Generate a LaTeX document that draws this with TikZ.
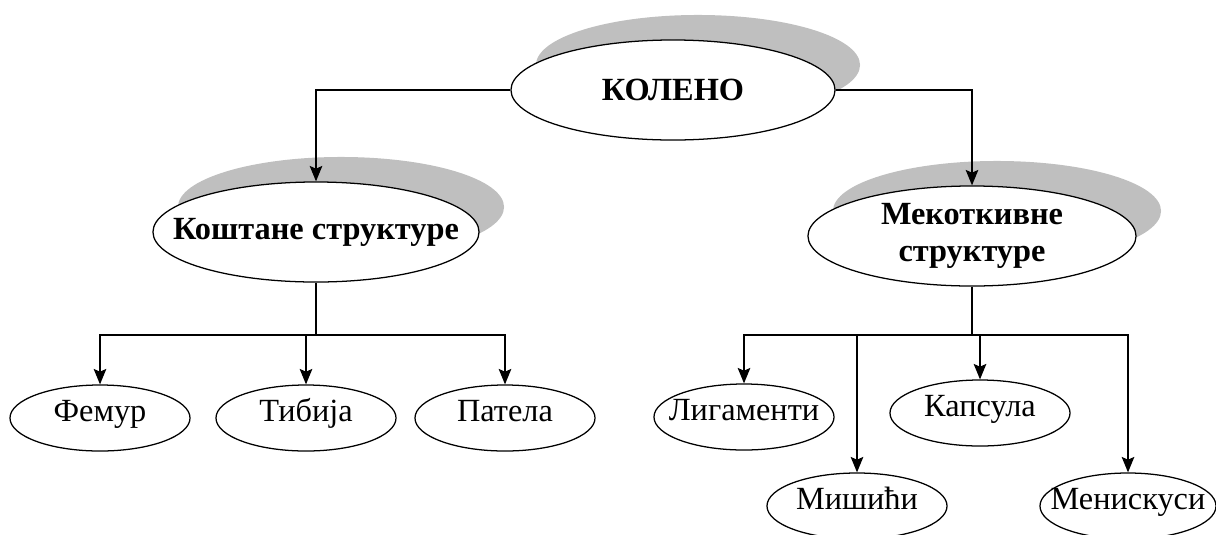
\documentclass[tikz,border=0pt]{standalone}
\usepackage{fontspec}
\setmainfont{Liberation Serif}
\usetikzlibrary{shapes.geometric}
\usetikzlibrary{shadows}
\usetikzlibrary{arrows.meta}

\begin{document}
\begin{tikzpicture}[x=0.025cm, y=-0.025cm,
  oval/.style={ellipse, draw, line width=0.9pt, fill=white, inner sep=0pt},
  big/.style={font=\fontsize{23}{26}\selectfont\bfseries, align=center},
  small/.style={font=\fontsize{23}{25}\selectfont, text height=1.5ex, text depth=0.35ex},
  shade/.style={drop shadow={shadow xshift=0.625cm, shadow yshift=0.625cm, fill=black!25, opacity=1}},
  topbox/.style={oval, shade, minimum width=8.1cm, minimum height=2.5cm},
  leafbox/.style={oval, minimum width=4.5cm, minimum height=1.65cm},
  arr/.style={line width=0.9pt, -{Stealth[length=11pt, width=9pt, inset=2pt]}}]
\useasboundingbox (0,0) rectangle (1216,534);

\node[topbox, label={[big]center:КОЛЕНО}] (koleno) at (673,90) {};
\node[topbox, minimum width=8.15cm, label={[big]center:Коштане структуре}] (kost) at (316,232) {};
\node[topbox, minimum width=8.2cm, label={[big]center:{Мекоткивне\\структуре}}] (meko) at (972,236) {};

\node[leafbox, label={[small]center:Фемур}] (femur) at (100,418) {};
\node[leafbox, label={[small]center:Тибија}] (tibija) at (306,418) {};
\node[leafbox, label={[small]center:Патела}] (patela) at (505,418) {};

\node[leafbox, label={[small]center:Лигаменти}] (lig) at (744,417) {};
\node[leafbox, label={[small]center:Мишићи}] (misici) at (857,506) {};
\node[leafbox, label={[small]center:Капсула}] (kapsula) at (980,413) {};
\node[leafbox, minimum width=4.4cm, label={[small]center:Менискуси}] (menisk) at (1128,506) {};

\draw[arr] (koleno.west) -| (kost.north);
\draw[arr] (koleno.east) -| (meko.north);

\coordinate (kb) at (316,335);
\draw[line width=0.9pt] (kost.south) -- (kb);
\draw[arr] (kb) -| (femur.north);
\draw[arr] (kb) -| (tibija.north);
\draw[arr] (kb) -| (patela.north);

\coordinate (mb) at (972,335);
\draw[line width=0.9pt] (meko.south) -- (mb);
\draw[arr] (mb) -| (lig.north);
\draw[arr] (mb) -| (misici.north);
\draw[arr] (mb) -| (kapsula.north);
\draw[arr] (mb) -| (menisk.north);
\end{tikzpicture}
\end{document}
